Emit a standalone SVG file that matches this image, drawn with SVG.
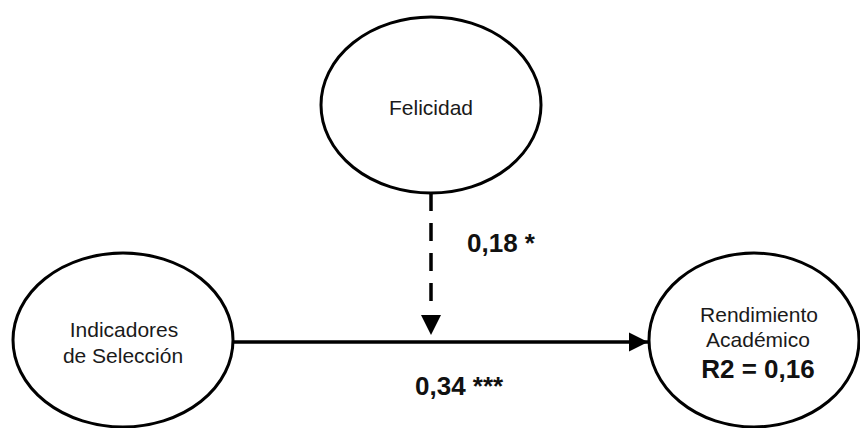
<svg xmlns="http://www.w3.org/2000/svg" width="860" height="428" viewBox="0 0 860 428">
<style>
.node{fill:#fff;stroke:#000;stroke-width:3}
.lbl{font-family:"Liberation Sans",Arial,sans-serif;font-size:21px;fill:#1a1a1a;text-anchor:middle}
.num{font-family:"Liberation Sans",Arial,sans-serif;font-size:26px;font-weight:bold;fill:#111}
.edge{stroke:#000;stroke-width:3.5;fill:none}
</style>
<defs>
<marker id="ah" viewBox="0 0 10 10" refX="10" refY="5" markerUnits="userSpaceOnUse" markerWidth="19" markerHeight="20" orient="auto">
<path d="M0,0 L10,5 L0,10 Z" fill="#000"/>
</marker>
</defs>
<rect width="860" height="428" fill="#fff"/>
<g id="connectors">
<line class="edge" x1="233" y1="342" x2="648" y2="342" marker-end="url(#ah)"/>
<line class="edge" x1="431" y1="193" x2="431" y2="313" stroke-dasharray="18 12"/>
<path d="M421,315 L441,315 L431,335 Z" fill="#000"/>
<text class="num" x="467" y="252">0,18 *</text>
<text class="num" x="415" y="395">0,34 ***</text>
</g>
<g id="felicidad">
<ellipse class="node" cx="431" cy="105" rx="110" ry="88"/>
<text class="lbl" x="431" y="115">Felicidad</text>
</g>
<g id="indicadores">
<ellipse class="node" cx="123" cy="340" rx="110" ry="87"/>
<text class="lbl" x="124" y="337">Indicadores</text>
<text class="lbl" x="123" y="363">de Selección</text>
</g>
<g id="rendimiento">
<ellipse class="node" cx="754" cy="340" rx="105" ry="87"/>
<text class="lbl" x="759" y="322">Rendimiento</text>
<text class="lbl" x="758" y="347">Académico</text>
<text class="num" x="758" y="378" text-anchor="middle">R2 = 0,16</text>
</g>
</svg>
